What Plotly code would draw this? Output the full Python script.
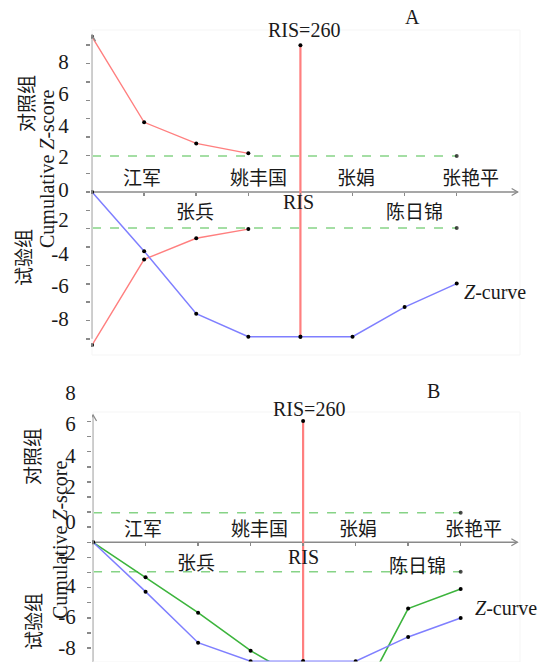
import plotly.graph_objects as go

# ---------------- data ----------------
positions = [0, 1, 2, 3, 4, 5, 6, 7]
study_labels = ["江军", "张兵", "姚丰国", "张娟", "陈日锦", "张艳平"]
study_pos = [1, 2, 3, 5, 6, 7]
study_above = [True, False, True, True, False, True]
ris_pos = 4
ris_text = "RIS=260"
ris_axis_text = "RIS"
conv_limit = 1.96

# Panel A
a_z_curve = [0, -3.22, -6.63, -7.88, -7.88, -7.88, -6.27, -4.99]
a_boundary_pos = [0, 1, 2, 3]
a_upper = [8.46, 3.80, 2.65, 2.11]
a_lower = [-8.34, -3.67, -2.52, -2.02]
a_ris_top = 8.0

# Panel B
b_z_curve = [0, -3.27, -6.65, -7.88, -7.88, -7.88, -6.27, -5.01]
b_green = [0, -2.32, -4.66, -7.18, -9.2, -11.0, -4.39, -3.09]
b_ris_top = 8.03

# tick labels (as printed in the figure, at their printed heights)
y_tick_text = ["8", "6", "4", "2", "0", "-2", "-4", "-6", "-8"]
a_tick_at = [7.08, 5.35, 3.61, 1.92, 0.11, -1.53, -3.34, -5.12, -6.88]
b_tick_at = [9.91, 7.88, 5.72, 3.68, 1.36, -0.71, -2.87, -4.91, -6.99]

# ---------------- styling ----------------
W, H = 538, 662
SERIF = "Liberation Serif, Times New Roman, serif"
CJK = "Liberation Serif, Noto Sans CJK SC, sans-serif"
TXT = "#1a1a1a"
AX = "#8a8a8a"
RED = "#ff7f7f"
BLUE = "#7f7fff"
GREEN = "#3cb43c"
LGREEN = "#86d386"

A_DOM_Y = [(H - 355) / H, (H - 30) / H]
A_RNG_Y = [-8.88, 8.83]
A_DOM_X = [91 / W, 520 / W]
A_RNG_X = [-0.02, 8.215]

B_DOM_Y = [0.0, (H - 380) / H]
B_RNG_Y = [-7.93, 10.75]
B_DOM_X = [92 / W, 520 / W]
B_RNG_X = [-0.02, 8.13]


def zero_pos(dom, rng):
    return dom[0] + (0 - rng[0]) / (rng[1] - rng[0]) * (dom[1] - dom[0])


fig = go.Figure()


def line(x, y, color, xa, ya, width=1.5, dash=None, sizes=4):
    fig.add_trace(go.Scatter(
        x=x, y=y, mode="lines+markers", xaxis=xa, yaxis=ya,
        line=dict(color=color, width=width, dash=dash),
        marker=dict(color="black", size=sizes, line=dict(width=0)), showlegend=False,
        hoverinfo="skip", cliponaxis=True))


# Panel A
line([0, 7], [conv_limit, conv_limit], LGREEN, "x", "y", 1.5, "dash", [0, 4])
line([0, 7], [-conv_limit, -conv_limit], LGREEN, "x", "y", 1.5, "dash", [0, 4])
line(a_boundary_pos, a_upper, RED, "x", "y", 1.4)
line(a_boundary_pos, a_lower, RED, "x", "y", 1.4)
line([ris_pos, ris_pos], [a_z_curve[ris_pos], a_ris_top], RED, "x", "y", 2.2)
line(positions, a_z_curve, BLUE, "x", "y", 1.5)

# Panel B
line([0, 7], [conv_limit, conv_limit], LGREEN, "x2", "y2", 1.5, "dash", [0, 4])
line([0, 7], [-conv_limit, -conv_limit], LGREEN, "x2", "y2", 1.5, "dash", [0, 4])
line([ris_pos, ris_pos], [b_z_curve[ris_pos], b_ris_top], RED, "x2", "y2", 2.2)
line(positions, b_green, GREEN, "x2", "y2", 1.6)
line(positions, b_z_curve, BLUE, "x2", "y2", 1.5)


# ---------------- axes ----------------
def xaxis(dom, rng, ydom, yrng):
    return dict(domain=dom, range=rng, anchor="free", position=zero_pos(ydom, yrng),
                showline=False, zeroline=False, showgrid=False,
                tickmode="array", tickvals=positions[1:], ticks="outside",
                ticklen=3, tickwidth=1.5, tickcolor=AX, showticklabels=False,
                fixedrange=True)


def yaxis(dom, rng, anchor, tick_at, minor_vals, standoff):
    return dict(domain=dom, range=rng, anchor=anchor, showline=False,
                zeroline=False, showgrid=False, tickmode="array",
                tickvals=tick_at, ticktext=y_tick_text, ticks="outside",
                ticklen=0, tickcolor=AX,
                minor=dict(tickmode="array", tickvals=minor_vals, ticks="outside",
                           ticklen=4, tickwidth=1.5, tickcolor=AX),
                tickfont=dict(family=SERIF, size=21, color=TXT),
                ticklabelstandoff=standoff, fixedrange=True)


shapes = []
# faint frames
shapes.append(dict(type="rect", xref="paper", yref="paper", x0=92 / W, x1=520 / W,
                   y0=(H - 355) / H, y1=(H - 30) / H, line=dict(color="#f5f5f5", width=1)))
shapes.append(dict(type="rect", xref="paper", yref="paper", x0=93 / W, x1=520 / W,
                   y0=0, y1=(H - 412) / H, line=dict(color="#f5f5f5", width=1)))


def axis_lines(xr, yr, y_lo, y_hi, x_hi):
    out = []
    out.append(dict(type="line", xref=xr, yref=yr, x0=0, x1=0, y0=y_lo, y1=y_hi,
                    line=dict(color=AX, width=1.5), layer="below"))
    out.append(dict(type="path", xref=xr, yref=yr, xsizemode="pixel", ysizemode="pixel",
                    xanchor=0, yanchor=y_hi, path="M -3.5 -6 L 0 0 L 3.5 -6",
                    line=dict(color=AX, width=1.3)))
    out.append(dict(type="line", xref=xr, yref=yr, x0=0, x1=x_hi, y0=0, y1=0,
                    line=dict(color=AX, width=1.5), layer="below"))
    out.append(dict(type="path", xref=xr, yref=yr, xsizemode="pixel", ysizemode="pixel",
                    xanchor=x_hi, yanchor=0, path="M -6 -3.5 L 0 0 L -6 3.5",
                    line=dict(color=AX, width=1.3)))
    return out


shapes += axis_lines("x", "y", -8.0, 8.55, 8.17)
shapes += axis_lines("x2", "y2", -7.93, 8.43, 8.08)

# ---------------- annotations ----------------
ann = []


def text(x, y, s, xr="paper", yr="paper", size=20, angle=0, xanchor="center",
         yanchor="middle", family=SERIF, xshift=0, yshift=0):
    ann.append(dict(x=x, y=y, xref=xr, yref=yr, text=s, showarrow=False,
                    textangle=angle, xanchor=xanchor, yanchor=yanchor,
                    xshift=xshift, yshift=yshift,
                    font=dict(family=family, size=size, color=TXT)))


# panel letters
text(412 / W, (H - 17) / H, "A", size=20)
text(433 / W, (H - 391) / H, "B", size=20)

# y titles
text(47 / W, (H - 169) / H, "Cumulative <i>Z</i>-score", size=20, angle=-90)
text(27 / W, (H - 104) / H, "对照组", size=19, angle=-90, family=CJK)
text(24 / W, (H - 258) / H, "试验组", size=19, angle=-90, family=CJK)
text(60 / W, (H - 540) / H, "Cumulative <i>Z</i>-score", size=20, angle=-90)
text(33 / W, (H - 457) / H, "对照组", size=19, angle=-90, family=CJK)
text(34 / W, (H - 622) / H, "试验组", size=19, angle=-90, family=CJK)

# study labels
a_shift = {"江军": -2, "张兵": -1, "姚丰国": 10, "张娟": 3, "陈日锦": 10, "张艳平": 14}
for lab, p, up in zip(study_labels, study_pos, study_above):
    text(p, 0.76 if up else -1.1, lab, "x", "y", 19, family=CJK, xshift=a_shift[lab])
    text(p, 0.85 if up else (-1.39 if lab == "张兵" else -1.62), lab, "x2", "y2", 19,
         family=CJK, xshift=a_shift[lab] - 1)

# RIS texts
text(ris_pos, 8.83, ris_text, "x", "y", 20, xshift=4)
text(ris_pos, -0.54, ris_axis_text, "x", "y", 20, xshift=-2)
text(ris_pos, (542.3 - 409.3) / 15.1, ris_text, "x2", "y2", 20, xshift=6)
text(ris_pos, -0.97, ris_axis_text, "x2", "y2", 20, xshift=0)

# Z-curve labels
text(7, a_z_curve[-1], "<i>Z</i>-curve", "x", "y", 20, xanchor="left", xshift=5, yshift=-8)
text(7, b_z_curve[-1], "<i>Z</i>-curve", "x2", "y2", 20, xanchor="left", xshift=12, yshift=10)

fig.update_layout(
    template="none", width=W, height=H, autosize=False,
    margin=dict(l=0, r=0, t=0, b=0, pad=0),
    paper_bgcolor="white", plot_bgcolor="rgba(0,0,0,0)",
    showlegend=False,
    xaxis=xaxis(A_DOM_X, A_RNG_X, A_DOM_Y, A_RNG_Y),
    yaxis=yaxis(A_DOM_Y, A_RNG_Y, "x", a_tick_at, list(range(-8, 9)), 17),
    xaxis2=xaxis(B_DOM_X, B_RNG_X, B_DOM_Y, B_RNG_Y),
    yaxis2=yaxis(B_DOM_Y, B_RNG_Y, "x2", b_tick_at, list(range(-7, 9)), 11),
    shapes=shapes, annotations=ann,
)

fig.write_html(
    "out.html",
    config={"displayModeBar": False, "staticPlot": True},
    post_script="document.body.style.margin='0';document.body.style.padding='0';"
                "document.body.style.overflow='hidden';",
)
